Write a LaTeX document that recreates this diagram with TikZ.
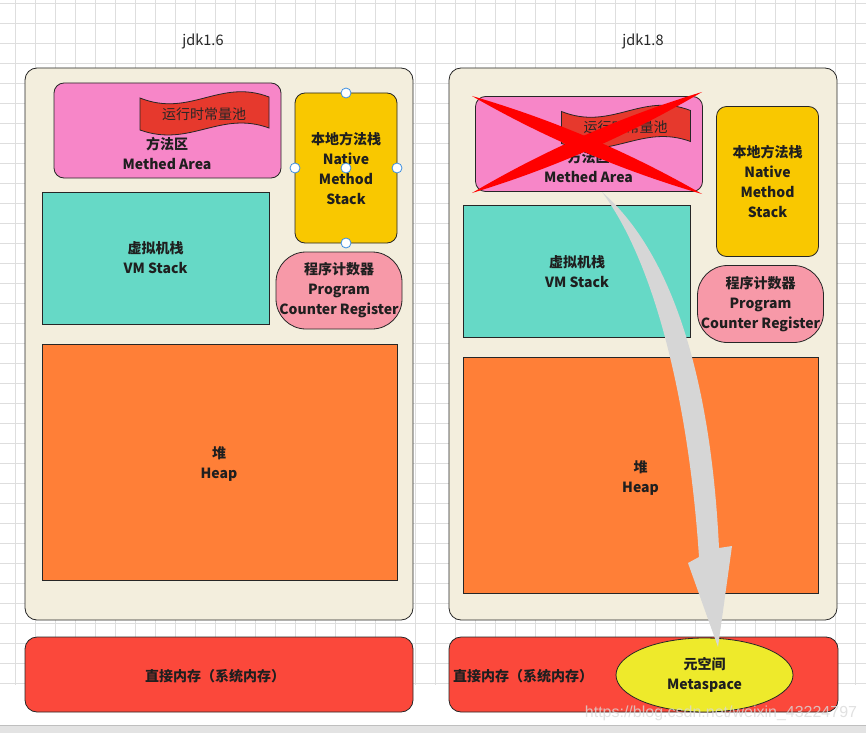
\documentclass[tikz,border=0pt]{standalone}
\usepackage{fontspec}
\setmainfont{Noto Sans CJK SC}
\newfontfamily\urlfont{Liberation Sans}
\usetikzlibrary{shapes.geometric}

\definecolor{gridgray}{HTML}{DEDEDE}
\definecolor{panelbeige}{HTML}{F3EEDD}
\definecolor{methodpink}{HTML}{F786C8}
\definecolor{poolred}{HTML}{E6392D}
\definecolor{nativeyellow}{HTML}{F9C800}
\definecolor{vmteal}{HTML}{66D9C6}
\definecolor{pcpink}{HTML}{F799A8}
\definecolor{heaporange}{HTML}{FF7F37}
\definecolor{directred}{HTML}{FB483B}
\definecolor{metayellow}{HTML}{EEEA2B}
\definecolor{arrowgray}{HTML}{D6D6D6}
\definecolor{handleblue}{HTML}{3D8FE0}

\tikzset{
  area/.style={draw=black!85, line width=0.8pt, inner sep=0pt, outer sep=0pt,
    align=center, text=black!88, font=\bfseries\fontsize{14}{20}\selectfont},
  pooltext/.style={text=black!85, font=\fontsize{14}{16}\selectfont},
  title/.style={text=black!85, font=\fontsize{14.5}{16}\selectfont},
  handle/.style={circle, draw=handleblue, fill=white, line width=0.8pt,
    minimum size=10pt, inner sep=0pt}
}

% one set of run-time data areas, #1 = prefix of the node names
\newcommand\jvmareas[1]{%
  \node[area, rounded corners=10, fill=methodpink, minimum width=227, minimum height=95] (#1method) at (167.5,130.5) {};
  \draw[area, fill=poolred] (140,98) .. controls (190,118) and (220,78) .. (269,97) -- (269,128)
    .. controls (220,110) and (190,148) .. (140,130) -- cycle;
  \node[pooltext] (#1pool) at (204,114) {运行时常量池};
  \node[area, draw=none] (#1methodtext) at (167,153) {方法区\\Methed Area};
  \node[area, rounded corners=10, fill=nativeyellow, minimum width=102, minimum height=150] (#1native) at (346,168) {本地方法栈\\Native\\Method\\Stack};
  \node[area, fill=vmteal, minimum width=227, minimum height=132] (#1vm) at (155.5,258) {虚拟机栈\\VM Stack};
  \node[area, rounded corners=30, fill=pcpink, minimum width=126, minimum height=77] (#1pc) at (339,290.5) {程序计数器\\Program\\Counter Register};
  \node[area, fill=heaporange, minimum width=355, minimum height=236] (#1heap) at (219.5,462) {};
  \node[area, draw=none] (#1heaptext) at (219,464) {堆\\Heap};
}

\begin{document}
\begin{tikzpicture}[x=1pt, y=-1pt]
  \useasboundingbox (0,0) rectangle (866,733);

  % background grid
  \foreach \gx in {15,35,...,855} \draw[gridgray, line width=0.8pt] (\gx,0) -- (\gx,685);
  \foreach \gy in {3,23,...,683} \draw[gridgray, line width=0.8pt] (0,\gy) -- (866,\gy);
  \fill[black!11] (0,725) rectangle (866,733);
  \draw[black!25, line width=0.8pt] (0,725) -- (866,725);

  %%%%% jdk1.6 %%%%%
  \node[title] (oldtitle) at (203,41) {jdk1.6};
  \node[area, rounded corners=12, fill=panelbeige, minimum width=388, minimum height=552] (oldpanel) at (219,344) {};
  \jvmareas{old}
  \foreach \side in {north,south,west,east,center}
    \node[handle] (handle-\side) at (oldnative.\side) {};
  \node[area, rounded corners=12, fill=directred, minimum width=388, minimum height=75] (olddirect) at (219,674.5) {};
  \node[area, draw=none] (olddirecttext) at (215,676) {直接内存（系统内存）};

  %%%%% jdk1.8 %%%%%
  \node[title] (newtitle) at (643,41) {jdk1.8};
  \node[area, rounded corners=12, fill=panelbeige, minimum width=388, minimum height=552] (newpanel) at (643,344) {};
  \begin{scope}[shift={(421.5,13.5)}]
    \jvmareas{new}
  \end{scope}

  % the crossed-out method area
  \fill[red] (472,96) .. controls (552.6,119.5) and (629.2,152.1) .. (702,194)
    .. controls (621.4,170.5) and (544.8,137.9) .. (472,96) -- cycle;
  \fill[red] (472,193) .. controls (544.7,150.1) and (621.3,116.5) .. (702,92)
    .. controls (629.3,134.9) and (552.7,168.5) .. (472,193) -- cycle;

  \node[area, rounded corners=12, fill=directred, minimum width=389, minimum height=75] (newdirect) at (643.5,674.5) {};
  \node[area, draw=none, anchor=west] (newdirecttext) at (453,676) {直接内存（系统内存）};
  \node[area, ellipse, fill=metayellow, minimum width=177, minimum height=74] (metaspace) at (704.5,675) {元空间\\Metaspace};

  % moved to metaspace
  \fill[arrowgray] (602,192) .. controls (660,270) and (690,420) .. (699,557) -- (688,563) -- (718,647)
    -- (732,546) -- (719,548) .. controls (712,400) and (680,260) .. (602,192) -- cycle;

  \node[text=black!15, opacity=0.8, font=\urlfont\fontsize{16}{18}\selectfont] (watermark) at (721,713) {https://blog.csdn.net/weixin\_43224797};
\end{tikzpicture}
\end{document}
